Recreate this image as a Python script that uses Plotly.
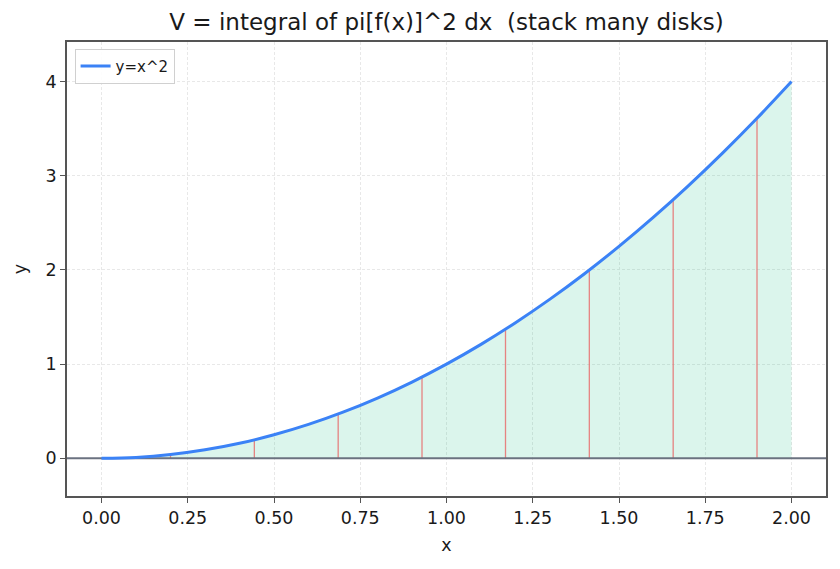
import plotly.graph_objects as go

# curve samples of y = x^2
curve_x = [0.0, 0.1, 0.2, 0.3, 0.4, 0.5, 0.6, 0.7, 0.8, 0.9, 1.0,
           1.1, 1.2, 1.3, 1.4, 1.5, 1.6, 1.7, 1.8, 1.9, 2.0]
curve_y = [0.0, 0.01, 0.04, 0.09, 0.16, 0.25, 0.36, 0.49, 0.64, 0.81, 1.0,
           1.21, 1.44, 1.69, 1.96, 2.25, 2.56, 2.89, 3.24, 3.61, 4.0]
# disk slice positions and heights
disk_x = [0.2, 0.443, 0.686, 0.929, 1.171, 1.414, 1.657, 1.9]
disk_h = [0.04, 0.196, 0.470, 0.862, 1.372, 2.0, 2.746, 3.61]

FONT = "DejaVu Sans"
TXT = "#1a1a1a"

fig = go.Figure()

fig.add_trace(go.Scatter(
    x=curve_x, y=curve_y, mode="lines", line=dict(width=0, shape="spline"),
    fill="tozeroy", fillcolor="rgba(16,185,129,0.15)", showlegend=False,
    hoverinfo="skip"))

vx, vy = [], []
for xv, hv in zip(disk_x, disk_h):
    vx += [xv, xv, None]
    vy += [0, hv, None]
fig.add_trace(go.Scatter(
    x=vx, y=vy, mode="lines", line=dict(color="rgba(232,110,110,0.85)", width=1.3),
    showlegend=False, hoverinfo="skip"))

fig.add_trace(go.Scatter(
    x=[-0.1, 2.1], y=[0, 0], mode="lines", line=dict(color="#6b7280", width=2),
    showlegend=False, hoverinfo="skip"))

fig.add_trace(go.Scatter(
    x=curve_x, y=curve_y, mode="lines", name="y=x^2",
    line=dict(color="#3b82f6", width=3, shape="spline")))

axis_common = dict(
    showline=True, mirror=True, linecolor="#555555", linewidth=1.5,
    ticks="outside", ticklen=5, tickcolor="#555555", tickwidth=1.2,
    showgrid=True, gridcolor="#e8e8e8", griddash="3px,2px", gridwidth=0.8,
    zeroline=False, tickfont=dict(size=17.5, color=TXT, family=FONT),
)

fig.update_xaxes(range=[-0.1, 2.1], tickvals=[0, 0.25, 0.5, 0.75, 1.0, 1.25, 1.5, 1.75, 2.0],
                 tickformat=".2f",
                 title=dict(text="x", font=dict(size=17.5, color=TXT, family=FONT), standoff=12),
                 **axis_common)
fig.update_yaxes(range=[-0.4, 4.42], tickvals=[0, 1, 2, 3, 4],
                 title=dict(text="y", font=dict(size=17.5, color=TXT, family=FONT), standoff=14),
                 **axis_common)

fig.update_layout(
    width=840, height=569,
    margin=dict(l=67, r=14, t=42, b=73),
    paper_bgcolor="white", plot_bgcolor="white",
    font=dict(family=FONT, color=TXT),
    title=dict(text="V = integral of pi[f(x)]^2 dx  (stack many disks)",
               xref="paper", x=0.5, xanchor="center", y=0.962, yanchor="middle",
               font=dict(size=23, family=FONT, color=TXT)),
    legend=dict(x=0.01, y=0.985, xanchor="left", yanchor="top",
                bgcolor="rgba(255,255,255,0.9)", bordercolor="#d0d0d0", borderwidth=1,
                font=dict(size=15, family=FONT, color=TXT)),
    showlegend=True,
)

fig.write_html("out.html")
